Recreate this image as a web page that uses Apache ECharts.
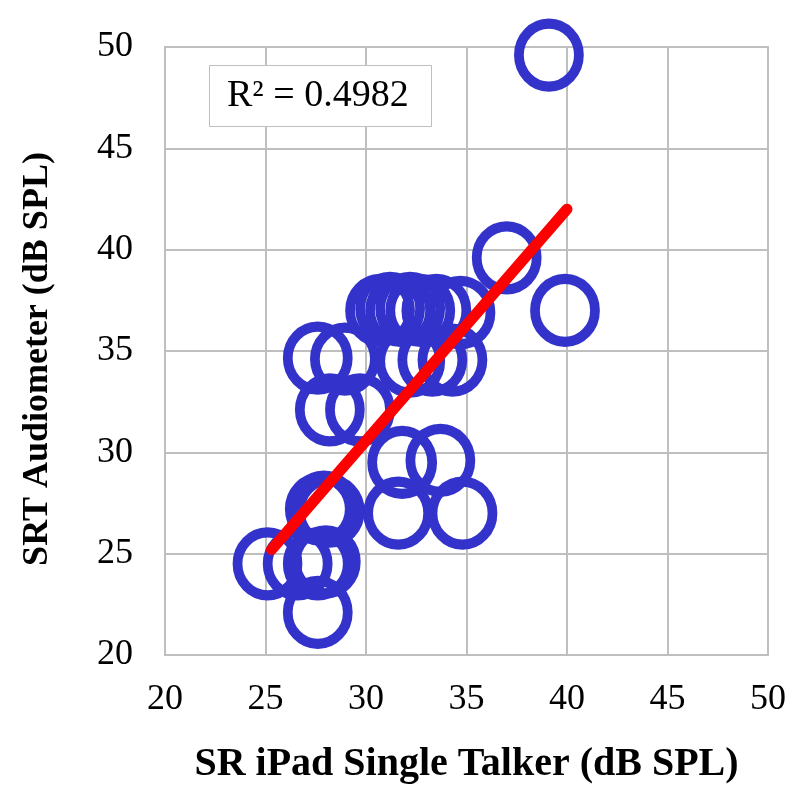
<!DOCTYPE html>
<html>
<head>
<meta charset="utf-8">
<script src="https://cdn.jsdelivr.net/npm/echarts@6/dist/echarts.min.js"></script>
<style>html,body{margin:0;padding:0;background:#fff}#c{width:800px;height:799px}</style>
</head>
<body>
<div id="c"></div>
<script>
const xValues = [39.1, 37.0, 39.9, 34.7, 30.7, 31.2, 31.7, 32.2, 32.7, 33.5, 27.6, 28.95, 32.2, 33.3, 34.3, 28.2, 29.7, 31.8, 33.7, 31.6, 34.8, 27.7, 27.9, 28.2, 25.1, 26.6, 27.6, 28.0, 27.6];
const yValues = [49.6, 39.6, 37.0, 36.9, 37.0, 37.1, 37.0, 37.1, 37.0, 37.0, 34.65, 34.6, 34.5, 34.55, 34.55, 32.1, 32.1, 29.5, 29.6, 27.0, 27.0, 27.2, 27.3, 27.1, 24.5, 24.5, 24.5, 24.6, 22.1];
const trendX = [25.3, 40.0];
const trendY = [25.2, 42.0];
const xTicks = [20, 25, 30, 35, 40, 45, 50];
const yTicks = [20, 25, 30, 35, 40, 45, 50];
const rSquaredText = 'R² = 0.4982';
const xTitle = 'SR iPad Single Talker (dB SPL)';
const yTitle = 'SRT Audiometer (dB SPL)';

const points = xValues.map((x, i) => [x, yValues[i]]);
const trend = trendX.map((x, i) => [x, trendY[i]]);
const font = 'Liberation Serif';

const chart = echarts.init(document.getElementById('c'), null, {renderer: 'canvas'});
chart.setOption({
  animation: false,
  backgroundColor: '#fff',
  grid: {left: 165, right: 32, top: 47, bottom: 144, containLabel: false,
         show: true, borderColor: '#bfbfbf', borderWidth: 2},
  xAxis: {
    type: 'value', min: xTicks[0], max: xTicks[xTicks.length - 1], interval: 5,
    name: xTitle, nameLocation: 'middle', nameGap: 90,
    nameTextStyle: {fontFamily: font, fontWeight: 'bold', fontSize: 40, color: '#000'},
    axisLine: {show: false}, axisTick: {show: false},
    axisLabel: {fontFamily: font, fontSize: 36, color: '#000', margin: 27},
    splitLine: {lineStyle: {color: '#bfbfbf', width: 2}}
  },
  yAxis: {
    type: 'value', min: yTicks[0], max: yTicks[yTicks.length - 1], interval: 5,
    name: yTitle, nameLocation: 'middle', nameGap: 109, nameRotate: 90,
    nameTextStyle: {fontFamily: font, fontWeight: 'bold', fontSize: 36, color: '#000', padding: [0, 16, 0, 0]},
    axisLine: {show: false}, axisTick: {show: false},
    axisLabel: {fontFamily: font, fontSize: 36, color: '#000', margin: 32},
    splitLine: {lineStyle: {color: '#bfbfbf', width: 2}}
  },
  series: [
    {
      type: 'scatter', data: points, clip: false,
      symbol: 'circle', symbolSize: [60, 63],
      itemStyle: {color: 'rgba(0,0,0,0)', borderColor: '#3333cc', borderWidth: 10, opacity: 1},
      z: 2
    },
    {
      type: 'line', data: trend, showSymbol: false, symbol: 'none',
      lineStyle: {color: '#ff0000', width: 11, cap: 'round'},
      z: 3
    }
  ],
  graphic: [
    {type: 'rect', left: 209, top: 65, shape: {width: 222, height: 61},
     style: {fill: '#fff', stroke: '#bfbfbf', lineWidth: 1}, z: 10},
    {type: 'text', left: 227, top: 77,
     style: {text: rSquaredText, font: '38px "Liberation Serif"', fill: '#000'}, z: 11}
  ]
});
</script>
</body>
</html>
